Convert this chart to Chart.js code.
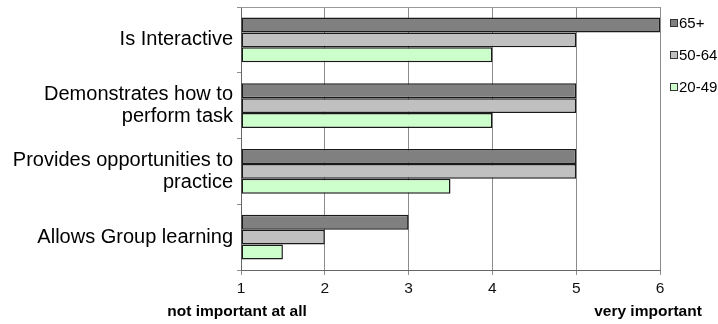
<!DOCTYPE html>
<html>
<head>
<meta charset="utf-8">
<script src="https://cdn.jsdelivr.net/npm/chart.js@4/dist/chart.umd.min.js"></script>
<style>
  html, body { margin: 0; padding: 0; background: #ffffff; }
  #wrap { width: 718px; height: 324px; }
</style>
</head>
<body>
<div id="wrap"><canvas id="c" width="718" height="324"></canvas></div>
<script>
// Rated importance of course features, by age group (1 = not important at all, 6 = very important)
const categories = [
  'Is Interactive',
  ['Demonstrates how to', 'perform task'],
  ['Provides opportunities to', 'practice'],
  'Allows Group learning'
];
const seriesNames = ['65+', '50-64', '20-49'];
const age65plus = [6, 5, 5, 3];
const age50to64 = [5, 5, 5, 2];
const age20to49 = [4, 4, 3.5, 1.5];
const scaleTicks = [1, 2, 3, 4, 5, 6];
const scaleEndLabels = ['not important at all', 'very important'];

const FONT = "'Liberation Sans', Arial, Helvetica, sans-serif";
const fills = ['#808080', '#c0c0c0', '#ccffcc'];
const seriesValues = [age65plus, age50to64, age20to49];

// Thin frame line along the top of the plot area
const topFrame = {
  id: 'topFrame',
  beforeDatasetsDraw(chart) {
    const { ctx, chartArea } = chart;
    ctx.save();
    ctx.strokeStyle = '#999999';
    ctx.lineWidth = 1;
    ctx.beginPath();
    ctx.moveTo(chartArea.left, Math.round(chartArea.top) + 0.5);
    ctx.lineTo(chartArea.right, Math.round(chartArea.top) + 0.5);
    ctx.stroke();
    ctx.restore();
  }
};

// Side legend: small square swatch followed by the series name
const sideLegend = {
  id: 'sideLegend',
  afterDraw(chart) {
    const { ctx, chartArea } = chart;
    ctx.save();
    ctx.font = '15px ' + FONT;
    ctx.textBaseline = 'middle';
    ctx.textAlign = 'left';
    chart.data.datasets.forEach((ds, i) => {
      const x = Math.round(chartArea.right) + 10;
      const y = Math.round(chartArea.top) + 16 + i * 32;
      ctx.fillStyle = ds.backgroundColor;
      ctx.fillRect(x + 0.5, y - 3.5, 7, 7);
      ctx.strokeStyle = '#333333';
      ctx.lineWidth = 1;
      ctx.strokeRect(x + 0.5, y - 3.5, 7, 7);
      ctx.fillStyle = '#000000';
      ctx.fillText(ds.label, x + 9, y + 1);
    });
    ctx.restore();
  }
};

// Bold captions under the two ends of the rating scale
const scaleCaptions = {
  id: 'scaleCaptions',
  afterDraw(chart) {
    const { ctx } = chart;
    const xs = chart.scales.x;
    const y = xs.bottom + 19;
    ctx.save();
    ctx.font = 'bold 15.5px ' + FONT;
    ctx.fillStyle = '#000000';
    ctx.textBaseline = 'alphabetic';
    ctx.textAlign = 'center';
    ctx.fillText(scaleEndLabels[0], xs.getPixelForValue(scaleTicks[0]) - 4, y);
    ctx.fillText(scaleEndLabels[1], xs.getPixelForValue(scaleTicks[scaleTicks.length - 1]) - 12, y);
    ctx.restore();
  }
};

new Chart(document.getElementById('c'), {
  type: 'bar',
  data: {
    labels: categories,
    datasets: seriesNames.map((name, i) => ({
      label: name,
      data: seriesValues[i],
      base: scaleTicks[0],
      backgroundColor: fills[i],
      borderColor: '#1a1a1a',
      borderWidth: 1.5,
      borderSkipped: false,
      categoryPercentage: 0.68,
      barPercentage: 1.0
    }))
  },
  options: {
    indexAxis: 'y',
    responsive: false,
    animation: false,
    devicePixelRatio: 1,
    layout: { padding: { top: 7, right: 58, bottom: 27, left: 0 } },
    plugins: {
      legend: { display: false },
      tooltip: { enabled: false }
    },
    scales: {
      x: {
        type: 'linear',
        position: 'bottom',
        min: scaleTicks[0],
        max: scaleTicks[scaleTicks.length - 1],
        afterBuildTicks(scale) { scale.ticks = scaleTicks.map(v => ({ value: v })); },
        afterFit(scale) { scale.height = 27; },
        ticks: {
          font: { family: FONT, size: 15.5 },
          color: '#111111',
          padding: 4
        },
        grid: {
          color: '#8c8c8c',
          lineWidth: 1,
          drawTicks: true,
          tickLength: 5,
          tickColor: '#8c8c8c'
        },
        border: { display: true, color: '#666666', width: 1 }
      },
      y: {
        type: 'category',
        position: 'left',
        afterFit(scale) {
          scale.width = 241;
          scale.paddingTop = 0;
          scale.paddingBottom = 0;
        },
        ticks: {
          font: { family: FONT, size: 20, lineHeight: 1.1 },
          color: '#000000',
          padding: 4,
          autoSkip: false
        },
        grid: {
          drawOnChartArea: false,
          drawTicks: true,
          tickLength: 4,
          tickColor: '#8c8c8c',
          offset: true
        },
        border: { display: true, color: '#666666', width: 1 }
      }
    }
  },
  plugins: [topFrame, sideLegend, scaleCaptions]
});
</script>
</body>
</html>
